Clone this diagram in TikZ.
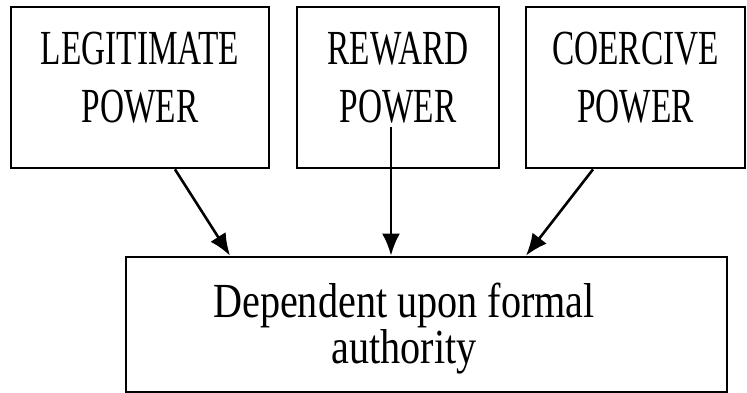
\documentclass[tikz,border=0pt]{standalone}
\usepackage{fontspec}
\setmainfont{Liberation Serif}
\usepackage{graphicx}
\usetikzlibrary{arrows.meta}

\newcommand{\sq}[1]{\scalebox{0.68}[1]{#1}}
\newcommand{\sqlow}[1]{\scalebox{0.82}[1]{#1}}
\tikzset{
	powerbox/.style={draw, line width=2.8pt, rectangle, minimum height=161pt, inner sep=0pt, align=center, text depth=20pt, font=\fontsize{49}{58}\selectfont},
	arr/.style={line width=2.6pt, -{Latex[length=22pt, width=18pt]}}
}

\begin{document}
\begin{tikzpicture}[x=1pt, y=-1pt]
	\useasboundingbox (0, 0) rectangle (747, 393);
	% Boxes and texts:
	\node[powerbox, minimum width=258pt](legit) at (140, 87.5){\sq{LEGITIMATE}\\\sq{POWER}};
	\node[powerbox, minimum width=202pt](reward) at (398, 87.5){\sq{REWARD}\\\sq{POWER}};
	\node[powerbox, minimum width=219pt](coercive) at (635.5, 87.5){\sq{COERCIVE}\\\sq{POWER}};
	\node[draw, line width=2.8pt, minimum width=601pt, minimum height=135pt](auth) at (426.5, 324.5){};
	\node[anchor=base, align=center, font=\fontsize{49}{40}\selectfont](authtext) at (404, 363){\sqlow{Dependent upon formal}\\\sqlow{authority}};
	\coordinate (rewardtail) at (391, 127);
	% Arrows:
	\draw[arr] ([xshift=35pt]legit.south) -- ([xshift=-196.5pt]auth.north);
	\draw[arr] (rewardtail) -- (rewardtail |- auth.north);
	\draw[arr] ([xshift=-42.5pt]coercive.south) -- ([xshift=99.5pt]auth.north);
\end{tikzpicture}
\end{document}
